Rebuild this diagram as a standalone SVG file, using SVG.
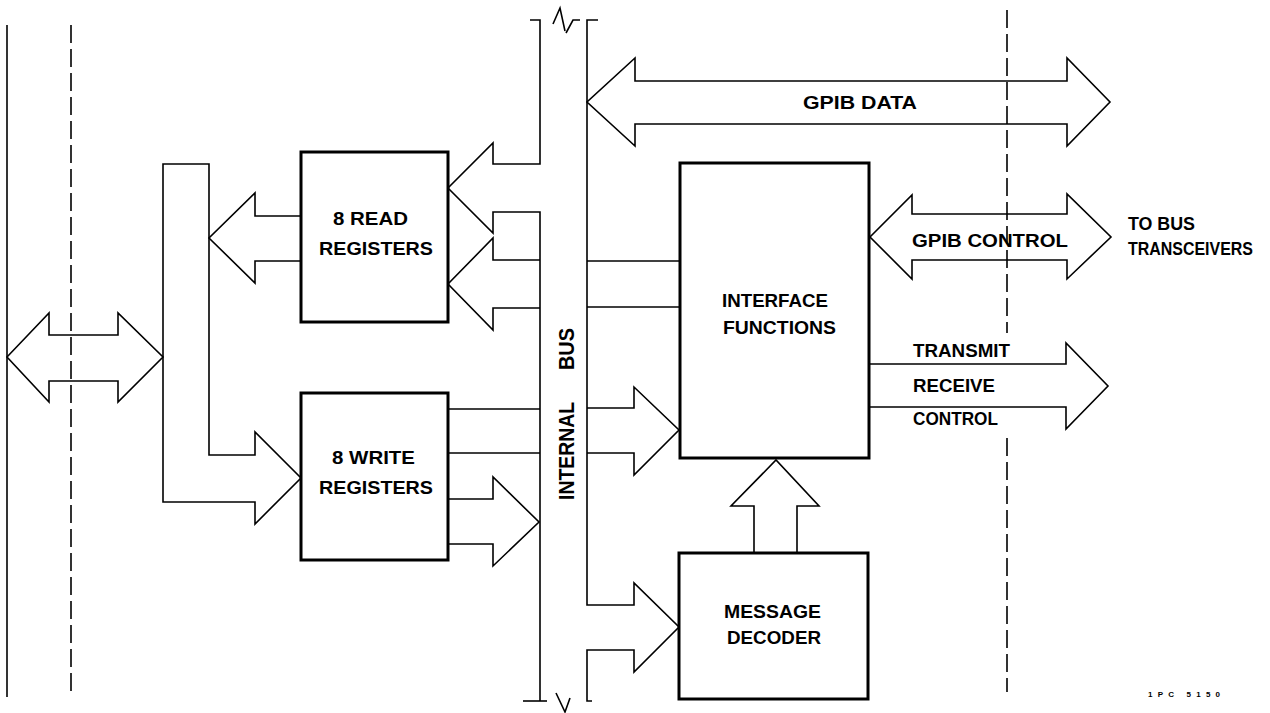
<svg xmlns="http://www.w3.org/2000/svg" width="1270" height="713" viewBox="0 0 1270 713">
<style>
.bg{fill:#fff}
.box{fill:none;stroke:#000;stroke-width:3}
.ln{fill:none;stroke:#000;stroke-width:1.6;stroke-linejoin:miter}
.dash{fill:none;stroke:#000;stroke-width:1.6;stroke-dasharray:18 6}
.t{font-family:"Liberation Sans",Arial,sans-serif;font-weight:bold;font-size:18px;fill:#000}
.s{font-family:"Liberation Sans",Arial,sans-serif;font-weight:bold;font-size:8px;fill:#000}
</style>
<rect class="bg" x="0" y="0" width="1270" height="713"/>
<g id="boundaries">
<path class="ln" d="M7,25 V697"/>
<path class="dash" d="M71,25 V695"/>
<path class="dash" d="M1007,10 V333"/>
<path class="dash" d="M1007,438 V692"/>
</g>
<g id="connectors">
<!-- host double arrow -->
<path class="ln" d="M7,357 L49,313 V335 H118 V313 L163,357 L118,402 V381 H49 V402 Z"/>
<!-- register distribution bar -->
<path class="ln" d="M163,164 H209 V455 H255 V432 L301,478 L255,524 V502 H163 Z"/>
<path class="ln" d="M301,216 H255 V193 L209,238 L255,283 V261 H301"/>
<!-- internal bus left rail with read arrows -->
<path class="ln" d="M530,20 H540 V164 H493 V143 L448,188 L493,233 V212 H540 V701"/>
<path class="ln" d="M523,701 H547"/>
<path class="ln" d="M553,24 L560,8 L565,31 M566,33 L573,20 H580"/>
<path class="ln" d="M556,693 L565,712 L570,698"/>
<path class="ln" d="M540,260 H493 V238 L448,284 L493,330 V308 H540"/>
<!-- write registers to bus -->
<path class="ln" d="M448,409 H540"/>
<path class="ln" d="M448,453 H540"/>
<path class="ln" d="M448,499 H493 V477 L539,522 L493,566 V544 H448"/>
<!-- internal bus right rail -->
<path class="ln" d="M598,20 H587 V605 H634 V583 L679,627 L634,672 V650 H587 V701 H592"/>
<!-- bus to interface functions -->
<path class="ln" d="M587,261 H680"/>
<path class="ln" d="M587,307 H680"/>
<path class="ln" d="M587,408 H634 V387 L679,430 L634,475 V453 H587"/>
<!-- GPIB data -->
<path class="ln" d="M635,81 H1067 V58 L1110,102 L1067,146 V124 H635 V146 L587,102 L635,58 Z"/>
<!-- GPIB control -->
<path class="ln" d="M912,214 H1067 V194 L1111,237 L1067,279 V260 H912 V279 L870,237 L912,195 Z"/>
<!-- transmit receive control -->
<path class="ln" d="M869,364 H1066 V343 L1108,386 L1066,429 V407 H869"/>
<!-- message decoder to interface functions -->
<path class="ln" d="M754,553 V506 H731 L776,460 L819,506 H797 V553"/>
</g>
<g id="read-registers">
<rect class="box" x="301" y="152" width="147" height="170"/>
<text class="t" x="333" y="225" textLength="75" lengthAdjust="spacingAndGlyphs">8 READ</text>
<text class="t" x="319" y="255" textLength="114" lengthAdjust="spacingAndGlyphs">REGISTERS</text>
</g>
<g id="write-registers">
<rect class="box" x="301" y="393" width="147" height="167"/>
<text class="t" x="332" y="464" textLength="83" lengthAdjust="spacingAndGlyphs">8 WRITE</text>
<text class="t" x="319" y="494" textLength="114" lengthAdjust="spacingAndGlyphs">REGISTERS</text>
</g>
<g id="interface-functions">
<rect class="box" x="680" y="163" width="189" height="295"/>
<text class="t" x="722" y="307" textLength="106" lengthAdjust="spacingAndGlyphs">INTERFACE</text>
<text class="t" x="723" y="334" textLength="113" lengthAdjust="spacingAndGlyphs">FUNCTIONS</text>
</g>
<g id="message-decoder">
<rect class="box" x="679" y="553" width="189" height="146"/>
<text class="t" x="724" y="618" textLength="97" lengthAdjust="spacingAndGlyphs">MESSAGE</text>
<text class="t" x="727" y="644" textLength="94" lengthAdjust="spacingAndGlyphs">DECODER</text>
</g>
<g id="labels">
<text class="t" transform="translate(574,0) rotate(-90)" x="-500" y="0" font-size="22" textLength="98" lengthAdjust="spacingAndGlyphs" style="font-size:22px">INTERNAL</text>
<text class="t" transform="translate(574,0) rotate(-90)" x="-370" y="0" textLength="42" lengthAdjust="spacingAndGlyphs" style="font-size:22px">BUS</text>
<text class="t" x="803" y="109" textLength="114" lengthAdjust="spacingAndGlyphs">GPIB DATA</text>
<text class="t" x="912" y="247" textLength="156" lengthAdjust="spacingAndGlyphs">GPIB  CONTROL</text>
<text class="t" x="1128" y="230" textLength="67" lengthAdjust="spacingAndGlyphs">TO BUS</text>
<text class="t" x="1128" y="255" textLength="125" lengthAdjust="spacingAndGlyphs">TRANSCEIVERS</text>
<text class="t" x="913" y="357" textLength="97" lengthAdjust="spacingAndGlyphs">TRANSMIT</text>
<text class="t" x="913" y="392" textLength="82" lengthAdjust="spacingAndGlyphs">RECEIVE</text>
<text class="t" x="913" y="425" textLength="85" lengthAdjust="spacingAndGlyphs">CONTROL</text>
<text class="s" x="1148" y="697" textLength="72" lengthAdjust="spacing">1PC 5150</text>
</g>
</svg>
